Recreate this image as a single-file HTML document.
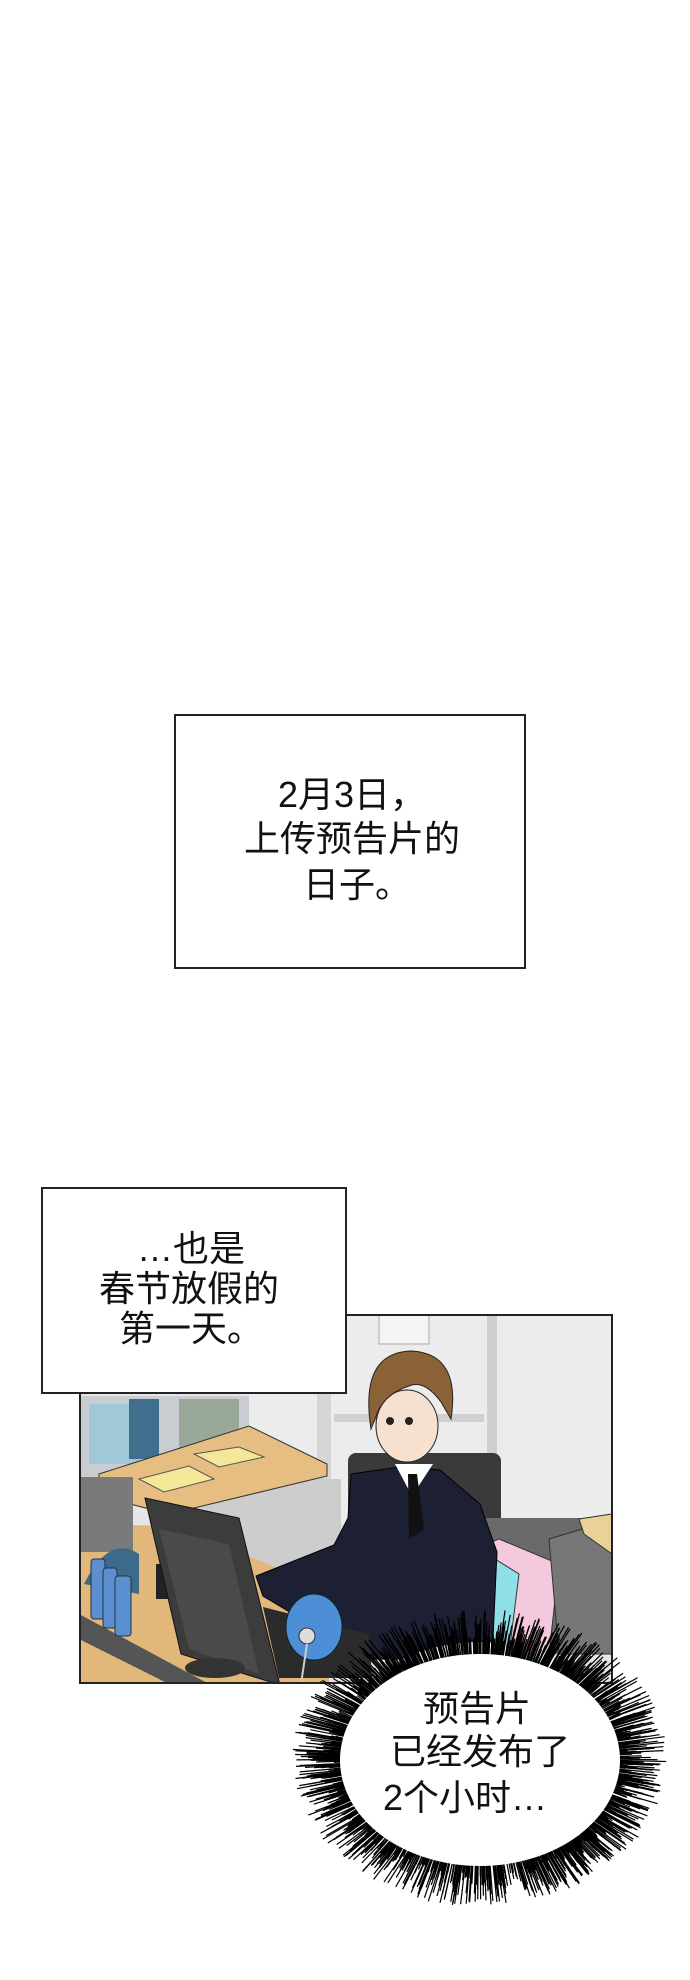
<!DOCTYPE html>
<html><head><meta charset="utf-8">
<style>
html,body{margin:0;padding:0;background:#fff;}
body{width:690px;height:1980px;position:relative;overflow:hidden;font-family:"Liberation Sans","Noto Sans CJK SC",sans-serif;color:#111;}
.box{position:absolute;background:#fff;border:2px solid #222;box-sizing:border-box;}
.t{position:absolute;font-size:36px;line-height:36px;white-space:nowrap;}
</style></head><body>

<div class="box" style="left:174px;top:714px;width:352px;height:255px;"></div>
<div class="t" style="left:278px;top:777px;">2月3日，</div>
<div class="t" style="left:244px;top:821px;">上传预告片的</div>
<div class="t" style="left:303px;top:867px;">日子。</div>

<svg style="position:absolute;left:79px;top:1314px" width="534" height="370" viewBox="0 0 534 370">
<rect x="0" y="0" width="534" height="370" fill="#e6e6e6"/>
<rect x="170" y="0" width="364" height="210" fill="#ececec"/>
<rect x="238" y="0" width="14" height="200" fill="#d6d6d6"/>
<rect x="408" y="0" width="10" height="210" fill="#cfcfcf"/>
<rect x="255" y="100" width="150" height="8" fill="#d0d0d0"/>
<rect x="300" y="0" width="50" height="30" fill="#f4f4f4" stroke="#aaa"/>
<rect x="112" y="165" width="150" height="90" fill="#cdcdcd"/>
<polygon points="0,82 170,82 170,150 0,165" fill="#c9ccd0"/>
<rect x="10" y="90" width="50" height="60" fill="#9fc9d6"/>
<rect x="50" y="85" width="30" height="60" fill="#3f6f8c"/>
<rect x="100" y="85" width="60" height="55" fill="#9aa89a"/>
<polygon points="20,160 170,112 248,150 248,162 90,200 20,182" fill="#e7be82" stroke="#333"/>
<polygon points="60,165 110,152 135,165 85,178" fill="#f4e79a" stroke="#555"/>
<polygon points="115,140 160,133 185,143 140,153" fill="#f4e79a" stroke="#555"/>
<polygon points="0,210 100,212 200,255 250,300 250,370 0,370" fill="#e2b77a"/>
<polygon points="0,300 130,370 90,370 0,325" fill="#555"/>
<rect x="0" y="163" width="54" height="75" fill="#7a7a7a"/>
<path d="M5,270 Q30,220 60,240 L60,280 Z" fill="#3b6b88"/>
<g fill="#5b8fd0" stroke="#234" stroke-width="1">
<rect x="12" y="245" width="14" height="60" rx="3"/>
<rect x="24" y="254" width="14" height="60" rx="3"/>
<rect x="36" y="262" width="16" height="60" rx="3"/>
</g>
<rect x="77" y="250" width="22" height="35" fill="#222"/>
<rect x="269" y="139" width="153" height="100" rx="8" fill="#3a3a3a"/>
<polygon points="360,204 533,204 533,340 360,340" fill="#6a6a6a"/>
<polygon points="395,235 420,225 480,250 470,340 390,340" fill="#f4c9dd" stroke="#333"/>
<polygon points="380,240 400,235 440,260 430,340 380,340" fill="#8fe0e6" stroke="#333"/>
<polygon points="470,225 520,210 533,220 533,340 480,340" fill="#777" stroke="#333"/>
<polygon points="500,205 533,200 533,240 505,220" fill="#e8d29a" stroke="#333"/>
<polygon points="350,250 400,245 410,340 345,340" fill="#555" stroke="#222"/>
<polygon points="272,160 320,153 361,156 401,190 418,238 413,345 293,345 259,327 184,282 177,262 255,231 269,204" fill="#1d2033" stroke="#000"/>
<polygon points="316,150 354,150 333,182" fill="#fff"/>
<polygon points="329,160 338,160 345,215 330,225" fill="#111"/>
<ellipse cx="328" cy="112" rx="31" ry="36" fill="#f6e1d0" stroke="#222"/>
<path d="M292,115 Q280,38 333,37 Q382,40 372,105 L362,88 Q345,65 330,72 Q310,78 300,95 Z" fill="#8b6136" stroke="#222"/>
<circle cx="311" cy="107" r="4" fill="#222"/><circle cx="330" cy="107" r="4" fill="#222"/>
<polygon points="66,184 160,204 201,371 102,340" fill="#3c3c3c" stroke="#111"/>
<polygon points="80,215 150,230 180,360 110,335" fill="#4a4a4a"/>
<ellipse cx="136" cy="354" rx="30" ry="10" fill="#333"/>
<polygon points="184,293 290,320 293,364 200,364" fill="#2b2b2b"/>
<ellipse cx="235" cy="313" rx="28" ry="33" fill="#4d8fd6" stroke="#123"/>
<circle cx="228" cy="322" r="8" fill="#ddd" stroke="#333"/>
<path d="M228,330 L222,370" stroke="#ccc" stroke-width="2"/>
<rect x="0.5" y="0.5" width="533" height="369" fill="none" stroke="#222" stroke-width="3"/>
</svg>

<div class="box" style="left:41px;top:1187px;width:306px;height:207px;"></div>
<div class="t" style="left:137px;top:1231px;">…也是</div>
<div class="t" style="left:99px;top:1271px;">春节放假的</div>
<div class="t" style="left:119px;top:1311px;">第一天。</div>

<svg id="burst" style="position:absolute;left:0;top:1560px" width="690" height="400" viewBox="0 1560 690 400">
<ellipse cx="480" cy="1758" rx="150" ry="116" fill="#fff"/>
<g id="sp" stroke="#000" stroke-width="1.2"></g>
<ellipse cx="480" cy="1760" rx="140" ry="106" fill="#fff"/>
</svg>
<script>
(function(){
var g=document.getElementById('sp'),s='',cx=480,cy=1758,rx=140,ry=106;
var seed=7;function r(){seed=(seed*9301+49297)%233280;return seed/233280;}
for(var i=0;i<1600;i++){var a=r()*Math.PI*2,c=Math.cos(a),sn=Math.sin(a);
var f1=0.98,f2=1.04+Math.pow(r(),1.5)*0.3;
s+='<line x1="'+(cx+c*rx*f1).toFixed(1)+'" y1="'+(cy+sn*ry*f1).toFixed(1)+'" x2="'+(cx+c*rx*f2).toFixed(1)+'" y2="'+(cy+sn*ry*f2*1.05).toFixed(1)+'"/>';}
g.innerHTML=s;})();
</script>
<div class="t" style="left:423px;top:1691px;">预告片</div>
<div class="t" style="left:390px;top:1734px;">已经发布了</div>
<div class="t" style="left:383px;top:1780px;">2个小时…</div>
</body></html>
